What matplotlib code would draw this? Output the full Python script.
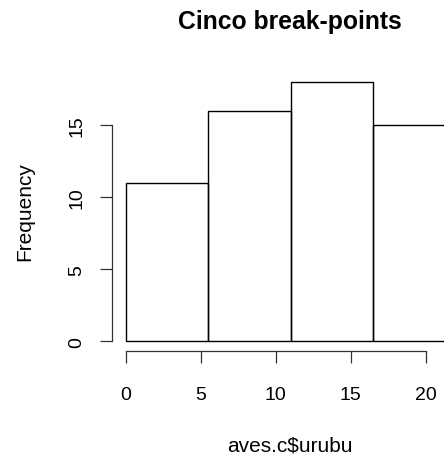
import matplotlib.pyplot as plt

plt.rcParams['font.family'] = ['Liberation Sans', 'DejaVu Sans']

breaks = [0, 5.5, 11, 16.5, 22]
counts = [11, 16, 18, 15]
xticks = [0, 5, 10, 15, 20]
yticks = [0, 5, 10, 15]

fig = plt.figure(figsize=(4.44, 4.56), dpi=100)
ax = fig.add_axes([0.253, 0.227, 0.803, 0.614])

widths = [b - a for a, b in zip(breaks[:-1], breaks[1:])]
ax.bar(breaks[:-1], counts, width=widths, align='edge', fill=False,
       edgecolor='black', linewidth=1.0)

ax.set_xlim(-0.88, 22.88)
ax.set_ylim(-0.72, 18.72)

for s in ['top', 'right']:
  ax.spines[s].set_visible(False)
ax.spines['left'].set_bounds(0, 15)
ax.spines['bottom'].set_bounds(0, 20)
for s in ['left', 'bottom']:
  ax.spines[s].set_linewidth(0.9)
  ax.spines[s].set_color('#333333')

ax.set_xticks(xticks)
ax.set_yticks(yticks)
ax.tick_params(axis='both', length=8.6, width=0.9, color='#333333', labelsize=14)
ax.tick_params(axis='x', pad=16)
ax.tick_params(axis='y', pad=11)
plt.setp(ax.get_yticklabels(), rotation=90, va='center')

fig.text(290 / 444, 1 - 22 / 456, 'Cinco break-points', ha='center', va='center',
         fontsize=17.8, fontweight='bold')
fig.text(290 / 444, 1 - 446 / 456, 'aves.c$urubu', ha='center', va='center', fontsize=15)
fig.text(25 / 444, 1 - 212 / 456, 'Frequency', ha='center', va='center',
         rotation=90, fontsize=15)

plt.savefig('out.png', dpi=100)
plt.close()
